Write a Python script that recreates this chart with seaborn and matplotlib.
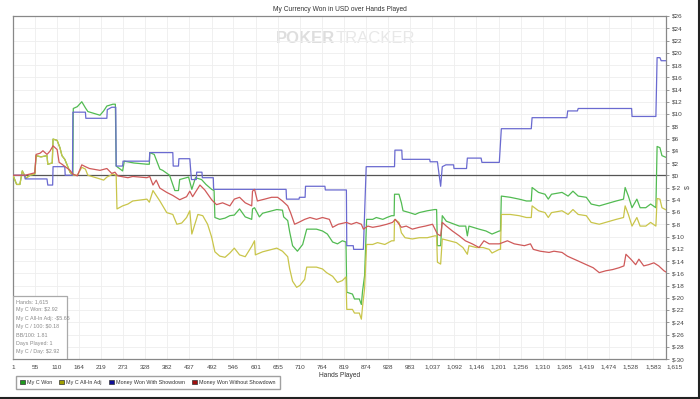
import pandas as pd
import seaborn as sns
import matplotlib.pyplot as plt
from matplotlib.patches import Patch, Rectangle
from matplotlib.lines import Line2D

# values (hand number, dollars)
won_hands = [1, 10, 18, 24, 33, 43, 55, 58, 70, 85, 87, 98, 100, 110, 117, 122, 129, 142, 149,
             150, 160, 171, 180, 186, 216, 225, 233, 248, 254, 256, 272, 276, 300, 332, 338, 339,
             350, 364, 371, 388, 401, 410, 413, 435, 443, 452, 467, 478, 492, 498, 500, 512, 525,
             537, 548, 561, 575, 591, 593, 598, 610, 618, 635, 653, 667, 670, 680, 685, 692, 704,
             717, 727, 751, 766, 778, 791, 803, 815, 824, 826, 840, 845, 857, 862, 865, 870, 875,
             890, 899, 915, 925, 937, 943, 944, 955, 961, 965, 981, 995, 1005, 1025, 1043, 1048,
             1050, 1058, 1062, 1072, 1080, 1104, 1120, 1124, 1128, 1153, 1170, 1185, 1203, 1206,
             1208, 1230, 1252, 1270, 1282, 1284, 1300, 1316, 1324, 1332, 1358, 1373, 1385, 1398,
             1418, 1430, 1450, 1466, 1492, 1510, 1514, 1522, 1531, 1543, 1551, 1565, 1577, 1590,
             1593, 1600, 1605, 1615]
won_vals = [0, -1.5, -1.5, 0.7, -0.5, 0, 0.2, 3.2, 3.0, 3.2, 1.8, 2.0, 5.9, 5.7, 4.5, 3.2, 2.6,
            0.5, 0, 10.9, 11.2, 12.0, 11.0, 10.4, 9.8, 10.5, 11.3, 11.6, 11.6, 1.5, 0.7, 2.3, 2.0,
            1.8, 1.8, 3.7, 3.4, 1.0, 0.8, 0, -2.5, -2.5, -0.7, -0.3, -2.3, -0.4, -0.7, -1.5, -2.3,
            -2.5, -6.9, -7.2, -7.0, -6.6, -6.5, -5.5, -6.8, -7.2, -5.5, -5.3, -6.8, -6.2, -5.9,
            -5.6, -5.7, -6.8, -7.4, -9.3, -11.5, -12.4, -11.3, -8.8, -8.8, -9.1, -9.6, -10.9,
            -11.2, -10.7, -10.9, -19.1, -19.4, -20.2, -20.2, -21.1, -18.9, -16.4, -7.2, -7.2,
            -6.9, -7.2, -6.9, -6.6, -6.6, -3.1, -3.1, -4.5, -5.8, -6.1, -6.4, -6.1, -5.8, -5.6,
            -5.6, -11.5, -11.5, -6.6, -7.5, -7.7, -8.3, -8.3, -9.9, -8.3, -8.8, -9.1, -9.6, -9.1,
            -9.1, -3.4, -3.6, -3.9, -4.2, -4.2, -2.0, -2.8, -3.1, -3.9, -3.1, -2.8, -3.4, -2.6,
            -3.4, -3.6, -4.7, -5.0, -4.7, -4.2, -3.9, -2.0, -3.4, -5.3, -3.9, -5.3, -5.3, -4.7,
            -5.3, 4.7, 4.5, 3.2, 2.92]

allin_hands = [1, 10, 18, 24, 33, 43, 55, 58, 70, 85, 87, 98, 100, 110, 117, 122, 129, 142, 149,
               160, 171, 180, 186, 216, 225, 233, 248, 256, 258, 272, 285, 297, 332, 338, 347, 364,
               381, 396, 406, 418, 430, 438, 443, 458, 470, 482, 492, 500, 512, 525, 537, 548, 561,
               575, 591, 598, 600, 618, 635, 653, 667, 680, 685, 692, 702, 710, 722, 727, 751, 766,
               776, 791, 803, 815, 824, 826, 840, 845, 857, 862, 865, 870, 875, 890, 902, 920, 937,
               943, 944, 955, 961, 970, 988, 1005, 1025, 1043, 1048, 1050, 1058, 1062, 1080, 1097,
               1113, 1124, 1128, 1146, 1163, 1178, 1185, 1203, 1206, 1208, 1230, 1252, 1270, 1282,
               1284, 1300, 1316, 1324, 1332, 1358, 1373, 1385, 1398, 1418, 1430, 1450, 1466, 1492,
               1510, 1514, 1522, 1531, 1543, 1551, 1565, 1577, 1590, 1593, 1600, 1605, 1615]
allin_vals = [0, -1.5, -1.5, 0.7, -0.5, 0, 0.2, 3.2, 3.0, 3.2, 1.8, 2.0, 5.9, 5.7, 4.5, 3.2, 2.6,
              0.5, 0, 0, 1.3, 1.0, 0, -0.6, -0.8, -0.3, 0.2, 0, -5.5, -5.0, -4.7, -4.2, -3.9, -4.4,
              -2.5, -4.2, -6.1, -6.4, -8.0, -7.8, -6.9, -5.8, -9.6, -6.4, -6.6, -8.0, -10.1, -12.5,
              -13.2, -13.4, -12.7, -11.9, -13.0, -13.3, -11.6, -10.7, -13.0, -12.5, -12.2, -11.9,
              -12.4, -13.3, -15.3, -17.3, -18.3, -18.0, -17.0, -15.0, -15.0, -15.3, -15.9, -16.5,
              -17.5, -17.2, -16.6, -21.9, -21.9, -22.5, -22.5, -23.5, -21.4, -18.5, -11.3, -11.3,
              -11.0, -11.3, -10.7, -10.7, -7.2, -7.7, -9.4, -10.2, -10.4, -10.2, -10.2, -9.9, -9.9,
              -14.2, -14.5, -10.4, -10.7, -11.0, -11.8, -12.9, -11.5, -11.8, -11.8, -12.1, -12.7,
              -12.1, -12.1, -6.4, -6.4, -6.6, -6.9, -6.9, -5.0, -5.8, -6.1, -6.9, -6.1, -5.8, -6.4,
              -5.6, -6.4, -6.6, -7.7, -8.0, -7.7, -7.2, -6.9, -5.0, -6.4, -8.3, -6.9, -8.3, -8.3,
              -7.7, -8.3, -3.8, -3.9, -5.3, -5.65]

sd_hands = [1, 30, 31, 85, 87, 99, 100, 129, 130, 148, 149, 180, 181, 233, 234, 245, 255, 256,
            272, 273, 338, 339, 396, 397, 410, 411, 438, 442, 454, 455, 468, 469, 496, 497, 676,
            677, 708, 709, 723, 724, 772, 773, 825, 826, 842, 843, 867, 874, 944, 945, 962, 963,
            1031, 1032, 1050, 1058, 1062, 1071, 1090, 1091, 1122, 1124, 1158, 1160, 1203, 1208,
            1282, 1284, 1370, 1372, 1396, 1398, 1530, 1531, 1590, 1593, 1600, 1603, 1615]
sd_vals = [0, 0, -0.6, -0.6, -1.6, -1.6, 1.4, 1.4, 0, 0, 10.3, 10.3, 9.3, 9.3, 10.7, 11.1, 11.1,
           1.5, 1.5, 2.3, 2.3, 3.7, 3.7, 1.5, 1.5, 2.7, 2.7, -0.7, -0.7, 0.5, 0.5, -0.4, -0.4,
           -2.3, -2.3, -3.9, -3.9, -3.6, -3.6, -1.8, -1.8, -2.4, -2.4, -11.5, -11.5, -12.1, -12.1,
           1.4, 1.4, 4.1, 4.1, 2.6, 2.6, 2.2, 2.2, -1.8, 1.4, 1.7, 1.7, 1.1, 1.1, 2.8, 2.8, 2.1,
           2.1, 7.6, 7.6, 9.4, 9.4, 10.5, 10.5, 10.9, 10.9, 9.6, 9.6, 19.2, 19.2, 18.7, 18.7]

nsd_hands = [1, 30, 43, 55, 58, 68, 75, 85, 92, 100, 110, 115, 122, 142, 149, 160, 171, 180, 190,
             216, 233, 245, 253, 260, 285, 297, 332, 339, 347, 355, 364, 381, 396, 413, 430, 438,
             445, 463, 475, 492, 504, 519, 537, 548, 561, 575, 591, 593, 598, 605, 623, 640, 655,
             667, 680, 687, 697, 707, 722, 735, 751, 766, 783, 791, 805, 825, 837, 850, 862, 867,
             878, 890, 907, 925, 939, 946, 961, 973, 988, 1005, 1020, 1038, 1050, 1058, 1062,
             1072, 1087, 1104, 1119, 1136, 1153, 1165, 1178, 1203, 1223, 1240, 1265, 1280, 1287,
             1304, 1326, 1338, 1358, 1371, 1381, 1398, 1418, 1435, 1450, 1466, 1483, 1499, 1511,
             1516, 1528, 1540, 1548, 1560, 1572, 1585, 1597, 1610, 1615]
nsd_vals = [0, 0, 0.2, 0.4, 3.4, 3.6, 4.0, 3.4, 3.9, 4.8, 4.2, 2.1, 1.8, 0.8, 0.2, -0.1, 1.7,
            1.4, 1.1, 0.8, 1.1, 0.3, 0.5, -0.1, -0.4, -0.2, -0.4, -0.2, -1.6, -0.8, -2.1, -2.8,
            -3.3, -4.0, -3.5, -2.6, -3.5, -1.6, -2.4, -4.0, -4.8, -4.5, -5.0, -3.9, -3.6, -4.5,
            -5.0, -2.6, -2.3, -4.2, -3.9, -3.6, -3.6, -4.2, -5.0, -6.1, -8.0, -7.7, -7.2, -6.9,
            -7.2, -6.9, -7.2, -8.5, -8.0, -7.7, -8.0, -7.7, -8.0, -8.8, -8.3, -8.5, -8.3, -8.0,
            -7.7, -7.2, -8.5, -8.3, -8.8, -8.5, -8.3, -8.0, -9.6, -9.9, -7.7, -8.3, -9.1, -9.9,
            -10.7, -11.2, -11.8, -10.7, -11.2, -11.2, -10.7, -11.2, -11.5, -11.2, -12.1, -12.4,
            -12.6, -12.4, -12.6, -13.2, -13.5, -14.0, -14.6, -15.1, -15.9, -15.6, -15.4, -15.1,
            -14.8, -12.9, -13.7, -14.6, -13.7, -14.8, -14.6, -14.3, -14.8, -15.6, -15.8]

series_names = ["My C Won", "My C All-In Adj", "Money Won With Showdown", "Money Won Without Showdown"]
line_colors = ["#52bb52", "#c9c54a", "#6a6ad0", "#cf5a5a"]
legend_colors = ["#1f9a1f", "#a0a000", "#10109a", "#a01010"]

x_ticks = [1, 55, 110, 164, 219, 273, 328, 382, 437, 492, 546, 601, 655, 710, 764, 819, 874, 928,
           983, 1037, 1092, 1146, 1201, 1256, 1310, 1365, 1419, 1474, 1528, 1583, 1615]
y_ticks = list(range(-30, 27, 2))

stats_lines = ["Hands: 1,615", "My C Won: $2.92", "My C All-In Adj: -$5.65", "My C / 100: $0.18",
               "BB/100: 1.81", "Days Played: 1", "My C / Day: $2.92"]

frames = []
for name, h, v in zip(series_names, [won_hands, allin_hands, sd_hands, nsd_hands],
                      [won_vals, allin_vals, sd_vals, nsd_vals]):
    frames.append(pd.DataFrame({"hand": h, "value": v, "series": name}))
df = pd.concat(frames, ignore_index=True)

sns.set_style("white")
plt.rcParams["font.family"] = ["Liberation Sans", "DejaVu Sans"]

fig = plt.figure(figsize=(7, 3.99), dpi=100)
ax = fig.add_axes([13 / 700, 1 - 359 / 399, 653 / 700, 343 / 399])

ax.axhline(0, color="#555555", linewidth=0.9, zorder=1)
sns.lineplot(data=df, x="hand", y="value", hue="series", hue_order=series_names,
             palette=line_colors, estimator=None, sort=False, legend=False,
             linewidth=0.9, ax=ax, zorder=3)

ax.set_xlim(1, 1615)
ax.set_ylim(-30, 26)
ax.set_xticks(x_ticks)
ax.set_xticklabels([f"{t:,}" for t in x_ticks], fontsize=4.6, color="#444444")
# the last two ticks sit close together, as in the reference
ax.get_xticklabels()[-1].set_horizontalalignment("left")
ax.set_yticks(y_ticks)
ax.set_yticklabels([f"\\${t}" for t in y_ticks], fontsize=4.6, color="#444444")
ax.yaxis.tick_right()
ax.yaxis.set_label_position("right")
ax.tick_params(axis="both", length=2.5, width=0.6, color="#888888", pad=1.5)
ax.grid(True, color="#eeeeee", linewidth=0.6)
for s in ax.spines.values():
    s.set_color("#888888")
    s.set_linewidth(0.9)

ax.set_title("My Currency Won in USD over Hands Played", fontsize=4.8, color="#333333", pad=3.5)
ax.set_xlabel("Hands Played", fontsize=4.8, color="#333333", labelpad=2)
ax.set_ylabel("$", fontsize=5, color="#555555", rotation=90, labelpad=0)

# watermark
ax.text(0.4935, 0.955, "POKER", transform=ax.transAxes, ha="right", va="top",
        fontsize=12, fontweight="bold", color="#dedede", zorder=0)
ax.text(0.4935, 0.955, "TRACKER", transform=ax.transAxes, ha="left", va="top",
        fontsize=12, color="#e8e8e8", zorder=0)

# stats box in the lower left corner
ax.add_patch(Rectangle((0, 0), 54 / 653, 63 / 343, transform=ax.transAxes, facecolor="white",
                       edgecolor="#aaaaaa", linewidth=0.9, zorder=5))
for i, line in enumerate(stats_lines):
    ax.text(3 / 653, (359 - 301.5 - i * 8.4) / 343, line.replace("$", "\\$"),
            transform=ax.transAxes, ha="left", va="center", fontsize=3.9, color="#8a8a8a", zorder=6)

handles = [Patch(facecolor=c, edgecolor="#333333", linewidth=0.5) for c in legend_colors]
fig.legend(handles, series_names, loc="upper left", bbox_to_anchor=(13 / 700, 1 - 373 / 399),
           ncol=4, fontsize=3.85, frameon=True, fancybox=False, edgecolor="#888888",
           handlelength=0.95, handleheight=0.95, handletextpad=0.4, columnspacing=1.3,
           borderpad=0.75, labelcolor="#333333")

# dark border on the bottom and right edge of the screenshot
fig.add_artist(Line2D([0, 1], [0.003, 0.003], transform=fig.transFigure, color="#222222", linewidth=1.5))
fig.add_artist(Line2D([0.998, 0.998], [0, 1], transform=fig.transFigure, color="#222222", linewidth=1.5))

fig.savefig("out.png", dpi=100)
